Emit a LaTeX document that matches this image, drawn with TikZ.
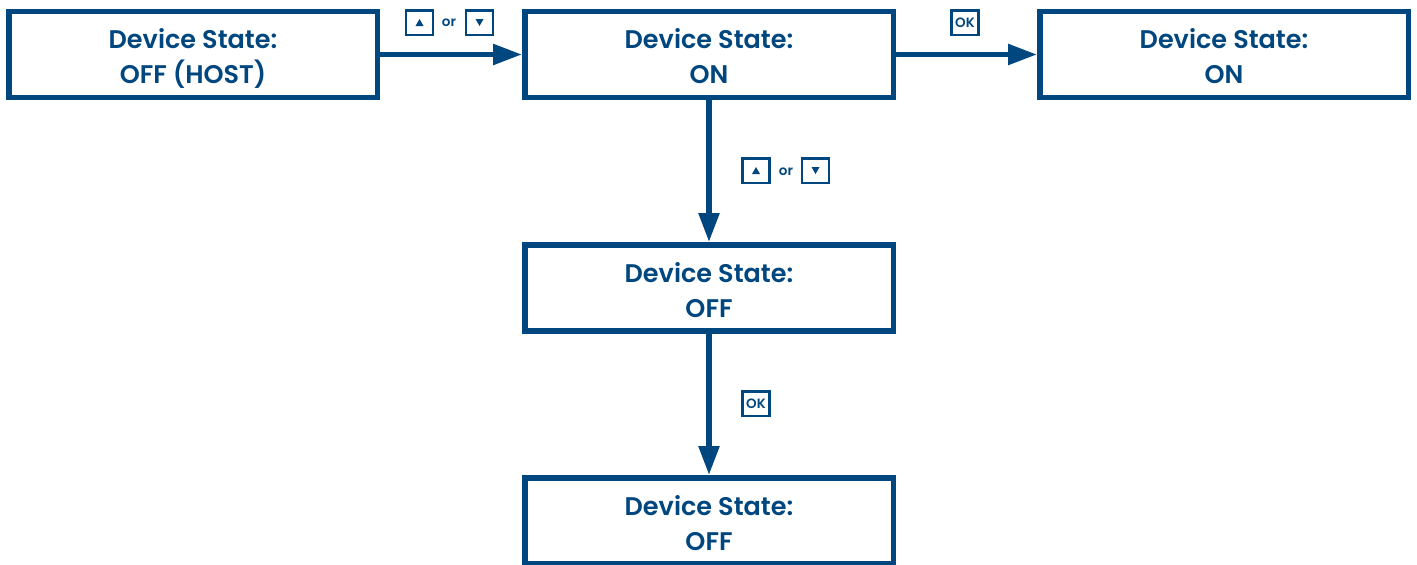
\documentclass[tikz,border=0pt]{standalone}
\usepackage{fontspec}
\setmainfont{Poppins}[BoldFont={Poppins SemiBold}]
\usetikzlibrary{arrows.meta}
\definecolor{navy}{HTML}{00467F}
\begin{document}
\begin{tikzpicture}[x=1pt,y=-1pt,
  state/.style={draw=navy,line width=5.5pt,minimum width=368.5pt,minimum height=86pt,
    inner sep=0pt,align=center,text=navy,font=\fontsize{25.5}{35}\selectfont\bfseries},
  flow/.style={draw=navy,line width=5.5pt,-{Triangle[length=29pt,width=20pt]}},
  key/.style={draw=navy,line width=2.5pt,minimum width=27pt,minimum height=24.5pt,inner sep=0pt,
    text=navy,font=\fontsize{13.5}{13}\selectfont\bfseries},
  ortext/.style={text=navy,font=\fontsize{13.5}{13}\selectfont\bfseries,inner sep=0pt}]
\useasboundingbox[fill=white] (0,0) rectangle (1417,565);
\newcommand{\upglyph}{\tikz\fill[navy] (0,0)--(8pt,0)--(4pt,7pt)--cycle;}
\newcommand{\downglyph}{\tikz\fill[navy] (0,7pt)--(8pt,7pt)--(4pt,0)--cycle;}
\newcommand{\stlines}[1]{\raisebox{-11pt}[0pt][0pt]{\begin{tabular}{@{}c@{}}Device State:\\#1\end{tabular}}}
\node[state] (b1) at (193,54.5) {\stlines{OFF (HOST)}};
\node[state] (b2) at (709,54.5) {\stlines{ON}};
\node[state] (b3) at (1224,54.5) {\stlines{ON}};
\node[state] (b4) at (709,287.75) {\stlines{OFF}};
\node[state] (b5) at (709,520.75) {\stlines{OFF}};
\draw[flow] (b1.east) -- (b2.west);
\draw[flow] (b2.east) -- (b3.west);
\draw[flow] (b2.south) -- (b4.north);
\draw[flow] (b4.south) -- (b5.north);
% labels
\node[key] (k1) at (419.5,22.5) {\upglyph};
\node[ortext] (o1) at (449,23) {or};
\node[key] (k2) at (479.5,22.5) {\downglyph};
\node[key] (k3) at (965,22.5) {OK};
\node[key] (k4) at (756,170.5) {\upglyph};
\node[ortext] (o2) at (786,172) {or};
\node[key] (k5) at (815.5,170.5) {\downglyph};
\node[key] (k6) at (756,403.5) {OK};
\end{tikzpicture}
\end{document}
